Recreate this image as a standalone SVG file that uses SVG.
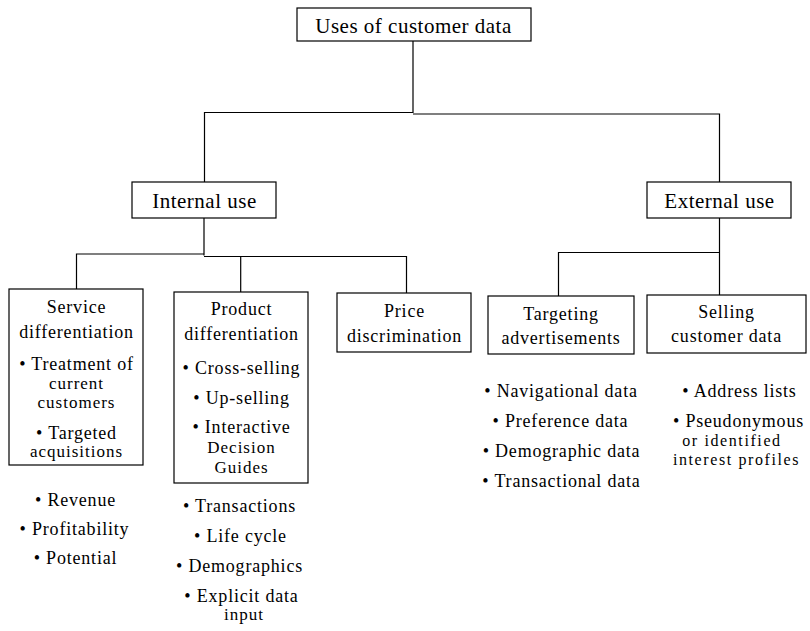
<svg xmlns="http://www.w3.org/2000/svg" width="810" height="631" viewBox="0 0 810 631">
<style>
  .box { fill: #ffffff; stroke: #000000; stroke-width: 1.2; }
  .conn { fill: none; stroke: #000000; stroke-width: 1.2; }
  text { font-family: "Liberation Serif", "Times New Roman", serif; fill: #000000; text-anchor: middle; }
  .big { font-size: 21px; letter-spacing: 0.5px; }
  .t { font-size: 18px; letter-spacing: 0.8px; }
  .s { font-size: 17px; letter-spacing: 1px; }
  .xs { font-size: 16px; letter-spacing: 1.6px; }
</style>
<rect width="810" height="631" fill="#ffffff"/>

<g id="connectors">
  <path class="conn" d="M413,41 V113 M204.5,182 V112.5 H413.5 M413,114 H719.5 V182"/>
  <path class="conn" d="M204,218 V255.5 M76.5,289 V254 H204.5 M204,256.5 H406.5 V293 M240.7,256.5 V292"/>
  <path class="conn" d="M719.5,218 V295 M558.5,296 V252.5 H719.5"/>
</g>

<g id="node-root">
  <rect class="box" x="297" y="8" width="234" height="33"/>
  <text class="big" x="413.5" y="32.5">Uses of customer data</text>
</g>

<g id="node-internal">
  <rect class="box" x="132" y="182" width="144" height="36"/>
  <text class="big" x="204.5" y="208">Internal use</text>
</g>

<g id="node-external">
  <rect class="box" x="647" y="182" width="144" height="36"/>
  <text class="big" x="719.5" y="208">External use</text>
</g>

<g id="node-service">
  <rect class="box" x="9" y="289" width="134" height="176"/>
  <text class="t" x="76.5" y="313">Service</text>
  <text class="t" x="76.5" y="338">differentiation</text>
  <text class="t" x="76.5" y="370">• Treatment of</text>
  <text class="s" x="76.5" y="389">current</text>
  <text class="s" x="76.5" y="407.5">customers</text>
  <text class="t" x="76.5" y="439">• Targeted</text>
  <text class="s" x="76.5" y="456.5">acquisitions</text>
</g>
<g id="service-data">
  <text class="t" x="75.5" y="505.5">• Revenue</text>
  <text class="t" x="74.5" y="535">• Profitability</text>
  <text class="t" x="75.5" y="563.5">• Potential</text>
</g>

<g id="node-product">
  <rect class="box" x="174" y="292" width="134" height="191"/>
  <text class="t" x="241.5" y="315">Product</text>
  <text class="t" x="241.5" y="340">differentiation</text>
  <text class="t" x="241.5" y="373.5">• Cross-selling</text>
  <text class="t" x="241.5" y="403.5">• Up-selling</text>
  <text class="t" x="241.5" y="432.5">• Interactive</text>
  <text class="s" x="241.5" y="452.5">Decision</text>
  <text class="s" x="241.5" y="472.5">Guides</text>
</g>
<g id="product-data">
  <text class="t" x="239.5" y="512">• Transactions</text>
  <text class="t" x="240.5" y="541.5">• Life cycle</text>
  <text class="t" x="239.5" y="571.5">• Demographics</text>
  <text class="t" x="241.5" y="601.5">• Explicit data</text>
  <text class="s" x="244" y="620">input</text>
</g>

<g id="node-price">
  <rect class="box" x="337" y="293" width="134" height="59"/>
  <text class="t" x="404.5" y="316.5">Price</text>
  <text class="t" x="404.5" y="341.5">discrimination</text>
</g>

<g id="node-targeting">
  <rect class="box" x="488" y="296" width="146" height="58"/>
  <text class="t" x="561" y="320">Targeting</text>
  <text class="t" x="561" y="343.5">advertisements</text>
</g>
<g id="targeting-data">
  <text class="t" x="561" y="396.5">• Navigational data</text>
  <text class="t" x="560.5" y="426.5">• Preference data</text>
  <text class="t" x="561.5" y="456.5">• Demographic data</text>
  <text class="t" x="561.5" y="486.5">• Transactional data</text>
</g>

<g id="node-selling">
  <rect class="box" x="647" y="295" width="159" height="58"/>
  <text class="t" x="726.5" y="318">Selling</text>
  <text class="t" x="726.5" y="341.5">customer data</text>
</g>
<g id="selling-data">
  <text class="t" x="739.5" y="396.5">• Address lists</text>
  <text class="t" x="738.5" y="426.5">• Pseudonymous</text>
  <text class="xs" x="732" y="445.5">or identified</text>
  <text class="xs" x="736.5" y="464.5">interest profiles</text>
</g>
</svg>
